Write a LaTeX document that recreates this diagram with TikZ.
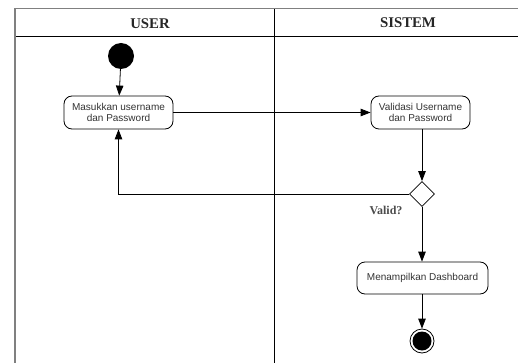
\documentclass[tikz,border=0pt]{standalone}
\usepackage{fontspec}
\setmainfont{Liberation Serif}
\newfontfamily\boxfont{Liberation Sans}
\usetikzlibrary{arrows.meta,shapes.geometric}
\begin{document}
\begin{tikzpicture}[x=1pt,y=-1pt,
  frameline/.style={draw=black!50,line width=1.6pt},
  laneline/.style={draw=black,line width=0.8pt},
  actbox/.style={draw,rounded corners=8pt,line width=0.8pt,align=center,
    font=\boxfont\fontsize{10}{11.5}\selectfont,text=black!80,inner sep=0pt},
  arr/.style={draw,line width=0.8pt,-{Triangle[length=10pt,width=7.5pt]}},
  hdr/.style={font=\bfseries\fontsize{14.8}{16}\selectfont,text=black!85}]
\useasboundingbox (0,0) rectangle (518,363);
% frame
\draw[laneline] (15,36.5) -- (518,36.5);
\draw[laneline] (274,8.5) -- (274,363);
\draw[frameline] (518,8.5) -- (15,8.5) -- (15,363);
\node[hdr] (huser) at (150,24) {USER};
\node[hdr] (hsis) at (408,23) {SISTEM};
% nodes
\node[circle,fill=black,minimum size=26pt,inner sep=0pt] (start) at (121,56) {};
\node[actbox,minimum width=109pt,minimum height=33pt] (m) at (118.5,112.5) {Masukkan username\\dan Password};
\node[actbox,minimum width=99pt,minimum height=33pt] (v) at (420.5,112.5) {Validasi Username\\dan Password};
\node[diamond,draw,line width=0.8pt,minimum width=25pt,minimum height=25pt,inner sep=0pt,fill=white] (d) at (422,194) {};
\node[font=\bfseries\fontsize{12}{13}\selectfont,text=black!70] (lbl) at (386,210) {Valid?};
\node[actbox,minimum width=131pt,minimum height=32pt] (dash) at (422.5,278) {Menampilkan Dashboard};
\node[circle,draw,line width=0.8pt,minimum size=24pt,inner sep=0pt] (end) at (422,341) {};
\fill (end.center) circle (9.5pt);
% connectors
\draw[arr] (start) -- (m);
\draw[arr] (m) -- (v);
\draw[arr] (v.south -| d.north) -- (d.north);
\draw[arr] (d.west) -| (m.south);
\draw[arr] (d.south) -- (dash.north -| d.south);
\draw[arr] (dash.south -| end.north) -- (end.north);
\end{tikzpicture}
\end{document}
